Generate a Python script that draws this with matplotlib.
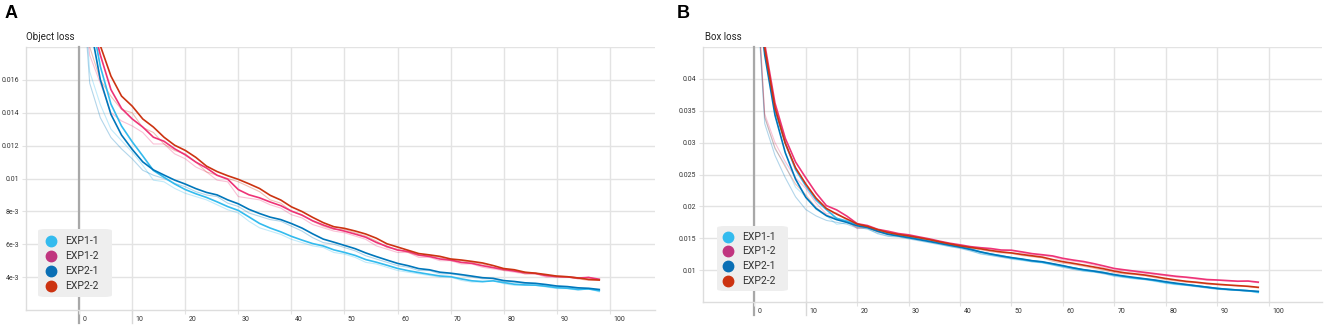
import numpy as np
import matplotlib
matplotlib.use("Agg")
import matplotlib.pyplot as plt
from matplotlib.lines import Line2D
from matplotlib.patches import FancyBboxPatch
import matplotlib.transforms as mtransforms

plt.rcParams["font.family"] = ["Roboto", "DejaVu Sans"]

# training steps (every 2nd step)
steps = np.arange(0, 100, 2)

series_names = ["EXP1-1", "EXP1-2", "EXP2-1", "EXP2-2"]
line_colors = ["#33bbee", "#ee3377", "#0077bb", "#cc3311"]
legend_colors = ["#33bbee", "#c0357f", "#0a6fb5", "#cc3311"]

# raw object loss (panel A)
obj_exp1_1 = [0.0260, 0.0165, 0.0145, 0.0130, 0.0123, 0.0116, 0.0108, 0.0099, 0.0098, 0.0094,
              0.0091, 0.0089, 0.0087, 0.0084, 0.0081, 0.0079, 0.0074, 0.0070, 0.0068, 0.0066,
              0.0063, 0.0061, 0.0059, 0.0058, 0.0055, 0.0054, 0.0052, 0.0049, 0.0048, 0.0046,
              0.0044, 0.0043, 0.0042, 0.0041, 0.0040, 0.0040, 0.0038, 0.0037, 0.0037, 0.0038,
              0.0036, 0.0035, 0.0035, 0.0035, 0.0034, 0.0033, 0.0033, 0.0032, 0.0033, 0.0031]
obj_exp1_2 = [0.0240, 0.0175, 0.0158, 0.0140, 0.0135, 0.0132, 0.0128, 0.0121, 0.0121, 0.0115,
              0.0112, 0.0107, 0.0104, 0.0099, 0.0098, 0.0089, 0.0088, 0.0087, 0.0084, 0.0082,
              0.0078, 0.0076, 0.0072, 0.0070, 0.0068, 0.0067, 0.0065, 0.0063, 0.0059, 0.0057,
              0.0055, 0.0055, 0.0052, 0.0052, 0.0050, 0.0050, 0.0048, 0.0048, 0.0046, 0.0045,
              0.0044, 0.0043, 0.0042, 0.0042, 0.0040, 0.0040, 0.0040, 0.0039, 0.0040, 0.0038]
obj_exp2_1 = [0.0250, 0.0158, 0.0137, 0.0125, 0.0118, 0.0112, 0.0105, 0.0102, 0.0100, 0.0097,
              0.0095, 0.0092, 0.0090, 0.0089, 0.0085, 0.0083, 0.0079, 0.0077, 0.0075, 0.0074,
              0.0071, 0.0068, 0.0064, 0.0061, 0.0060, 0.0058, 0.0056, 0.0053, 0.0051, 0.0049,
              0.0047, 0.0046, 0.0044, 0.0044, 0.0042, 0.0042, 0.0041, 0.0040, 0.0039, 0.0039,
              0.0037, 0.0037, 0.0036, 0.0036, 0.0035, 0.0034, 0.0034, 0.0033, 0.0033, 0.0032]
obj_exp2_2 = [0.0260, 0.0180, 0.0160, 0.0150, 0.0142, 0.0140, 0.0131, 0.0128, 0.0121, 0.0117,
              0.0115, 0.0110, 0.0104, 0.0102, 0.0100, 0.0098, 0.0095, 0.0092, 0.0087, 0.0085,
              0.0080, 0.0078, 0.0074, 0.0071, 0.0069, 0.0069, 0.0067, 0.0065, 0.0062, 0.0058,
              0.0057, 0.0055, 0.0053, 0.0053, 0.0052, 0.0050, 0.0050, 0.0049, 0.0048, 0.0046,
              0.0044, 0.0044, 0.0042, 0.0042, 0.0041, 0.0040, 0.0040, 0.0039, 0.0038, 0.0038]

# raw box loss (panel B)
box_exp1_1 = [0.0600, 0.0340, 0.0290, 0.0265, 0.0230, 0.0215, 0.0195, 0.0185, 0.0172, 0.0174,
              0.0168, 0.0164, 0.0158, 0.0154, 0.0153, 0.0150, 0.0147, 0.0144, 0.0141, 0.0137,
              0.0135, 0.0131, 0.0125, 0.0123, 0.0121, 0.0117, 0.0115, 0.0113, 0.0111, 0.0108,
              0.0104, 0.0102, 0.0098, 0.0097, 0.0095, 0.0090, 0.0088, 0.0086, 0.0085, 0.0082,
              0.0079, 0.0077, 0.0076, 0.0074, 0.0072, 0.0070, 0.0069, 0.0068, 0.0067, 0.0064]
box_exp1_2 = [0.0620, 0.0345, 0.0300, 0.0270, 0.0245, 0.0228, 0.0205, 0.0188, 0.0190, 0.0178,
              0.0165, 0.0168, 0.0160, 0.0159, 0.0155, 0.0154, 0.0150, 0.0147, 0.0143, 0.0140,
              0.0138, 0.0135, 0.0134, 0.0133, 0.0130, 0.0131, 0.0127, 0.0124, 0.0123, 0.0121,
              0.0116, 0.0114, 0.0112, 0.0108, 0.0104, 0.0100, 0.0099, 0.0097, 0.0095, 0.0093,
              0.0091, 0.0089, 0.0088, 0.0086, 0.0084, 0.0084, 0.0083, 0.0082, 0.0083, 0.0080]
box_exp2_1 = [0.0600, 0.0330, 0.0280, 0.0245, 0.0215, 0.0195, 0.0185, 0.0178, 0.0175, 0.0172,
              0.0166, 0.0165, 0.0157, 0.0153, 0.0152, 0.0149, 0.0146, 0.0143, 0.0140, 0.0137,
              0.0134, 0.0130, 0.0126, 0.0123, 0.0120, 0.0118, 0.0116, 0.0113, 0.0112, 0.0108,
              0.0105, 0.0101, 0.0099, 0.0097, 0.0094, 0.0091, 0.0089, 0.0087, 0.0085, 0.0083,
              0.0080, 0.0078, 0.0076, 0.0074, 0.0072, 0.0070, 0.0069, 0.0068, 0.0067, 0.0066]
box_exp2_2 = [0.0610, 0.0340, 0.0292, 0.0262, 0.0235, 0.0218, 0.0198, 0.0186, 0.0182, 0.0175,
              0.0167, 0.0166, 0.0160, 0.0156, 0.0154, 0.0152, 0.0149, 0.0146, 0.0142, 0.0139,
              0.0136, 0.0134, 0.0132, 0.0129, 0.0127, 0.0126, 0.0123, 0.0121, 0.0119, 0.0114,
              0.0111, 0.0109, 0.0106, 0.0103, 0.0100, 0.0096, 0.0094, 0.0093, 0.0091, 0.0088,
              0.0085, 0.0083, 0.0081, 0.0080, 0.0078, 0.0077, 0.0076, 0.0075, 0.0074, 0.0072]

obj_ticks = [0.004, 0.006, 0.008, 0.010, 0.012, 0.014, 0.016]
obj_labels = ["4e-3", "6e-3", "8e-3", "0.01", "0.012", "0.014", "0.016"]
box_ticks = [0.010, 0.015, 0.020, 0.025, 0.030, 0.035, 0.040]
box_labels = ["0.01", "0.015", "0.02", "0.025", "0.03", "0.035", "0.04"]
x_ticks = list(range(0, 101, 10))

SMOOTH = 0.4
W, H = 1325, 329
GRID = "#e3e3e3"


def ema(vals, w=SMOOTH):
    out = []
    last = vals[0]
    for v in vals:
        last = w * last + (1 - w) * v
        out.append(last)
    return np.array(out)


def px(x, y):
    # pixel position (from top-left) -> figure fraction
    return x / W, 1 - y / H


def draw_panel(ax, data, ylim, yticks, ylabels, xmax):
    for y in yticks + [ylim[1]]:
        ax.axhline(y, color=GRID, lw=1, zorder=0)
    for x in x_ticks:
        ax.axvline(x, color=GRID, lw=1, zorder=0)
    xt = ax.get_xaxis_transform()
    # zero line, darker and running past the axis
    ax.plot([0, 0], [-0.05, 1], transform=xt, color="#a8a8a8", lw=1.6, zorder=1, clip_on=False)
    ax.plot([10, 10], [-0.05, 0], transform=xt, color="#d8d8d8", lw=1, clip_on=False)

    for vals, c in zip(data, line_colors):
        ax.plot(steps, vals, color=c, lw=0.8, alpha=0.3, zorder=2)
    for vals, c in zip(data, line_colors):
        ax.plot(steps, ema(vals), color=c, lw=1.2, zorder=3)

    ax.set_xlim(-10, xmax)
    ax.set_ylim(*ylim)
    ax.set_yticks(yticks)
    ax.set_yticklabels(ylabels)
    ax.set_xticks(x_ticks)
    ax.set_xticklabels([str(t) for t in x_ticks])
    ax.tick_params(axis="y", length=3, width=0.8, color=GRID, pad=2,
                   labelsize=5, labelcolor="#333333")
    ax.tick_params(axis="x", length=3, width=0.8, color=GRID, pad=1.5,
                   labelsize=5, labelcolor="#333333")
    off = mtransforms.ScaledTranslation(2.5 / 72, 0, ax.figure.dpi_scale_trans)
    for lab in ax.get_xticklabels():
        lab.set_horizontalalignment("left")
        lab.set_transform(lab.get_transform() + off)
    for side in ["top", "right"]:
        ax.spines[side].set_visible(False)
    for side in ["left", "bottom"]:
        ax.spines[side].set_color("#dddddd")
        ax.spines[side].set_linewidth(1)


def draw_legend(fig, box, cx, tx, rows):
    x0, y0, x1, y1 = box
    bx, by = px(x0, y1)
    bw, bh = (x1 - x0) / W, (y1 - y0) / H
    fig.add_artist(FancyBboxPatch((bx, by), bw, bh, transform=fig.transFigure,
                                  boxstyle="round,pad=0,rounding_size=0.006",
                                  facecolor="#eeeeee", edgecolor="none", zorder=5))
    for name, c, ry in zip(series_names, legend_colors, rows):
        fig.add_artist(Line2D([cx / W], [1 - ry / H], transform=fig.transFigure, ls="none",
                              marker="o", markersize=7.5, markerfacecolor=c,
                              markeredgecolor=c, zorder=6))
        fig.text(tx / W, 1 - ry / H, name, fontsize=7.5, color="#333333",
                 va="center", ha="left", zorder=6)


fig = plt.figure(figsize=(13.25, 3.29), dpi=100)

axA = fig.add_axes([26 / W, (H - 310) / H, 629 / W, 263 / H])
draw_panel(axA, [obj_exp1_1, obj_exp1_2, obj_exp2_1, obj_exp2_2],
           (0.002, 0.018), obj_ticks, obj_labels, 108.5)

axB = fig.add_axes([703 / W, (H - 302) / H, 619 / W, 255 / H])
draw_panel(axB, [box_exp1_1, box_exp1_2, box_exp2_1, box_exp2_2],
           (0.005, 0.045), box_ticks, box_labels, 110.4)

draw_legend(fig, (38, 229, 112, 297), 51, 65, [241, 256, 271, 286])
draw_legend(fig, (717, 226, 788, 291), 728, 742, [237, 251, 266, 281])

fig.text(*px(5, 14), "A", fontsize=13, fontweight="bold", va="center", ha="left",
         family=["Liberation Sans", "DejaVu Sans"])
fig.text(*px(677, 14), "B", fontsize=13, fontweight="bold", va="center", ha="left",
         family=["Liberation Sans", "DejaVu Sans"])
fig.text(*px(26, 37), "Object loss", fontsize=7, va="center", ha="left", color="#222222")
fig.text(*px(705, 37), "Box loss", fontsize=7, va="center", ha="left", color="#222222")

fig.savefig("out.png", dpi=100)
